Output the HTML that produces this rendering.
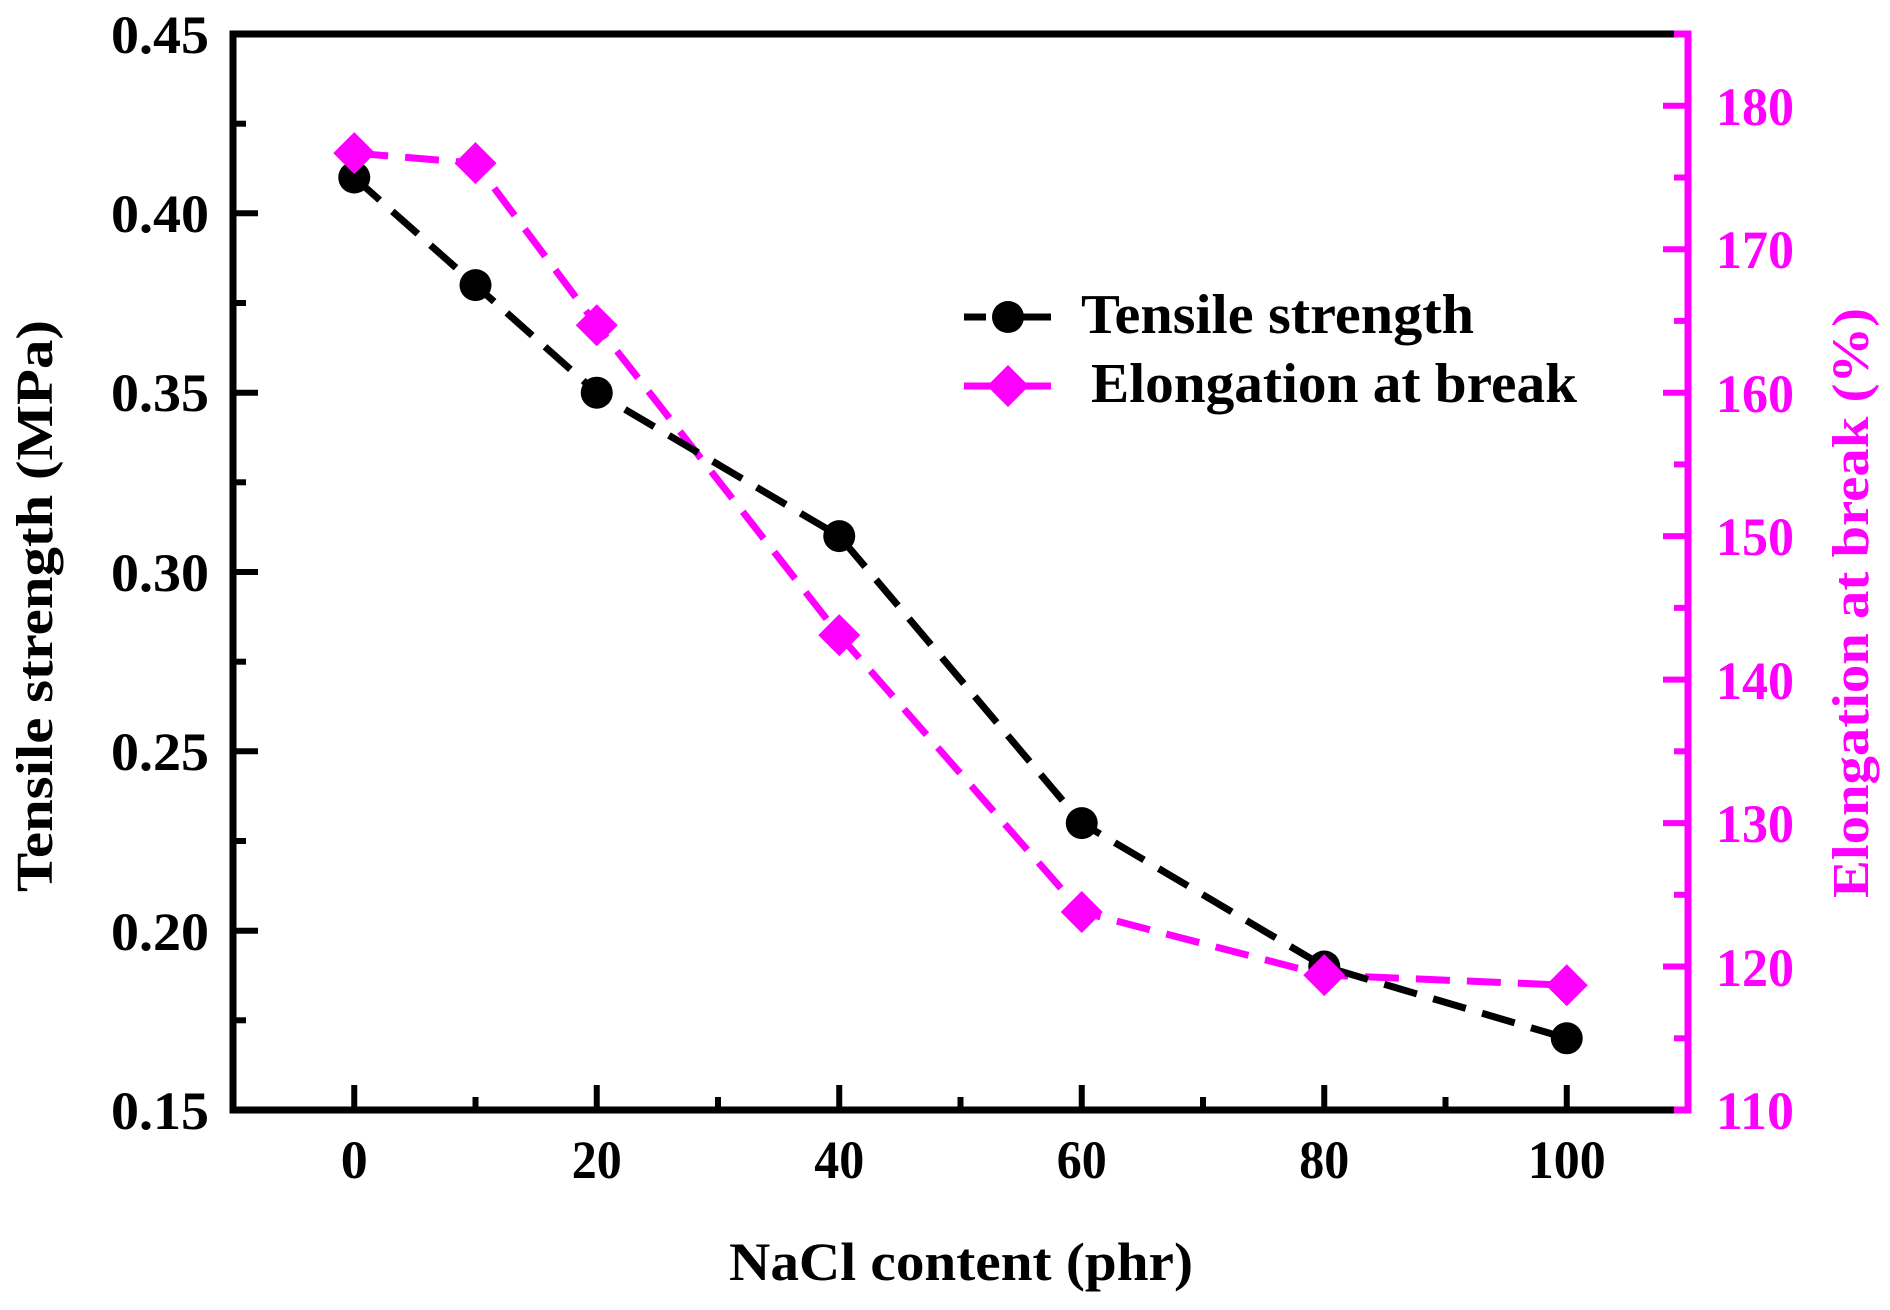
<!DOCTYPE html>
<html><head><meta charset="utf-8"><style>html,body{margin:0;padding:0;background:#fff}svg{display:block}</style></head><body>
<svg xmlns="http://www.w3.org/2000/svg" width="1890" height="1310" viewBox="0 0 1890 1310" font-family="'Liberation Serif', serif" font-weight="bold">
<rect width="1890" height="1310" fill="#fff"/>
<polyline points="354.25,153.1 475.5,163.1 596.75,325.2 839.25,635.1 1081.75,912 1324.25,975.1 1566.75,985.2" fill="none" stroke="#ff00ff" stroke-width="7" stroke-dasharray="34 17" stroke-linejoin="round"/>
<polyline points="354.25,177.5 475.5,285.1 596.75,392.7 839.25,536.1 1081.75,823.1 1324.25,966.5 1566.75,1038.3" fill="none" stroke="#000" stroke-width="7" stroke-dasharray="34 17" stroke-linejoin="round"/>
<g fill="#000">
<circle cx="354.25" cy="177.5" r="16"/><circle cx="475.5" cy="285.1" r="16"/><circle cx="596.75" cy="392.7" r="16"/><circle cx="839.25" cy="536.1" r="16"/><circle cx="1081.75" cy="823.1" r="16"/><circle cx="1324.25" cy="966.5" r="16"/><circle cx="1566.75" cy="1038.3" r="16"/>
</g>
<g fill="#ff00ff">
<polygon points="333.25,153.1 354.25,132.1 375.25,153.1 354.25,174.1"/>
<polygon points="454.5,163.1 475.5,142.1 496.5,163.1 475.5,184.1"/>
<polygon points="575.75,325.2 596.75,304.2 617.75,325.2 596.75,346.2"/>
<polygon points="818.25,635.1 839.25,614.1 860.25,635.1 839.25,656.1"/>
<polygon points="1060.75,912 1081.75,891 1102.75,912 1081.75,933"/>
<polygon points="1303.25,975.1 1324.25,954.1 1345.25,975.1 1324.25,996.1"/>
<polygon points="1545.75,985.2 1566.75,964.2 1587.75,985.2 1566.75,1006.2"/>
</g>
<line x1="233" y1="34" x2="1678" y2="34" stroke="#000" stroke-width="7"/>
<line x1="233" y1="1110" x2="1678" y2="1110" stroke="#000" stroke-width="7"/>
<line x1="233" y1="30.5" x2="233" y2="1113.5" stroke="#000" stroke-width="7"/>
<line x1="1688" y1="30.5" x2="1688" y2="1113.5" stroke="#ff00ff" stroke-width="7"/>
<line x1="1674" y1="34" x2="1688" y2="34" stroke="#ff00ff" stroke-width="7"/>
<line x1="1674" y1="1110" x2="1688" y2="1110" stroke="#ff00ff" stroke-width="7"/>
<g stroke="#000" stroke-width="6">
<line x1="233" y1="123.7" x2="246" y2="123.7"/><line x1="233" y1="213.3" x2="258" y2="213.3"/>
<line x1="233" y1="303" x2="246" y2="303"/><line x1="233" y1="392.7" x2="258" y2="392.7"/>
<line x1="233" y1="482.3" x2="246" y2="482.3"/><line x1="233" y1="572" x2="258" y2="572"/>
<line x1="233" y1="661.7" x2="246" y2="661.7"/><line x1="233" y1="751.3" x2="258" y2="751.3"/>
<line x1="233" y1="841" x2="246" y2="841"/><line x1="233" y1="930.7" x2="258" y2="930.7"/>
<line x1="233" y1="1020.3" x2="246" y2="1020.3"/>
<line x1="354.25" y1="1110" x2="354.25" y2="1085"/><line x1="475.5" y1="1110" x2="475.5" y2="1097"/>
<line x1="596.75" y1="1110" x2="596.75" y2="1085"/><line x1="718" y1="1110" x2="718" y2="1097"/>
<line x1="839.25" y1="1110" x2="839.25" y2="1085"/><line x1="960.5" y1="1110" x2="960.5" y2="1097"/>
<line x1="1081.75" y1="1110" x2="1081.75" y2="1085"/><line x1="1203" y1="1110" x2="1203" y2="1097"/>
<line x1="1324.25" y1="1110" x2="1324.25" y2="1085"/><line x1="1445.5" y1="1110" x2="1445.5" y2="1097"/>
<line x1="1566.75" y1="1110" x2="1566.75" y2="1085"/>
</g>
<g stroke="#ff00ff" stroke-width="6">
<line x1="1688" y1="105.7" x2="1663" y2="105.7"/><line x1="1688" y1="177.5" x2="1674" y2="177.5"/>
<line x1="1688" y1="249.2" x2="1663" y2="249.2"/><line x1="1688" y1="320.9" x2="1674" y2="320.9"/>
<line x1="1688" y1="392.7" x2="1663" y2="392.7"/><line x1="1688" y1="464.4" x2="1674" y2="464.4"/>
<line x1="1688" y1="536.1" x2="1663" y2="536.1"/><line x1="1688" y1="607.9" x2="1674" y2="607.9"/>
<line x1="1688" y1="679.6" x2="1663" y2="679.6"/><line x1="1688" y1="751.3" x2="1674" y2="751.3"/>
<line x1="1688" y1="823.1" x2="1663" y2="823.1"/><line x1="1688" y1="894.8" x2="1674" y2="894.8"/>
<line x1="1688" y1="966.5" x2="1663" y2="966.5"/><line x1="1688" y1="1038.3" x2="1674" y2="1038.3"/>
</g>
<g font-size="54" text-anchor="end">
<text x="209" y="53" textLength="98" lengthAdjust="spacingAndGlyphs">0.45</text>
<text x="209" y="232" textLength="98" lengthAdjust="spacingAndGlyphs">0.40</text>
<text x="209" y="411" textLength="98" lengthAdjust="spacingAndGlyphs">0.35</text>
<text x="209" y="591" textLength="98" lengthAdjust="spacingAndGlyphs">0.30</text>
<text x="209" y="770" textLength="98" lengthAdjust="spacingAndGlyphs">0.25</text>
<text x="209" y="950" textLength="98" lengthAdjust="spacingAndGlyphs">0.20</text>
<text x="209" y="1129" textLength="98" lengthAdjust="spacingAndGlyphs">0.15</text>
</g>
<g font-size="54" text-anchor="middle">
<text x="354.25" y="1178">0</text>
<text x="596.75" y="1178" textLength="50" lengthAdjust="spacingAndGlyphs">20</text>
<text x="839.25" y="1178" textLength="50" lengthAdjust="spacingAndGlyphs">40</text>
<text x="1081.75" y="1178" textLength="50" lengthAdjust="spacingAndGlyphs">60</text>
<text x="1324.25" y="1178" textLength="50" lengthAdjust="spacingAndGlyphs">80</text>
<text x="1566.75" y="1178" textLength="78" lengthAdjust="spacingAndGlyphs">100</text>
</g>
<g font-size="54" fill="#ff00ff">
<text x="1716" y="125" textLength="78" lengthAdjust="spacingAndGlyphs">180</text>
<text x="1716" y="268" textLength="78" lengthAdjust="spacingAndGlyphs">170</text>
<text x="1716" y="412" textLength="78" lengthAdjust="spacingAndGlyphs">160</text>
<text x="1716" y="555" textLength="78" lengthAdjust="spacingAndGlyphs">150</text>
<text x="1716" y="699" textLength="78" lengthAdjust="spacingAndGlyphs">140</text>
<text x="1716" y="842" textLength="78" lengthAdjust="spacingAndGlyphs">130</text>
<text x="1716" y="986" textLength="78" lengthAdjust="spacingAndGlyphs">120</text>
<text x="1716" y="1129" textLength="78" lengthAdjust="spacingAndGlyphs">110</text>
</g>
<text x="0" y="0" font-size="52" text-anchor="middle" transform="translate(52,606) rotate(-90)" textLength="572" lengthAdjust="spacingAndGlyphs">Tensile strength (MPa)</text>
<text x="0" y="0" font-size="52" text-anchor="middle" fill="#ff00ff" transform="translate(1868,603) rotate(-90)" textLength="590" lengthAdjust="spacingAndGlyphs">Elongation at break (%)</text>
<text x="961" y="1280" font-size="54" text-anchor="middle" textLength="464" lengthAdjust="spacingAndGlyphs">NaCl content (phr)</text>
<line x1="964" y1="317" x2="1051" y2="317" stroke="#000" stroke-width="7" stroke-dasharray="22 13 52"/>
<circle cx="1008" cy="317" r="16" fill="#000"/>
<text x="1081" y="333" font-size="56" textLength="393" lengthAdjust="spacingAndGlyphs">Tensile strength</text>
<line x1="964" y1="386" x2="1051" y2="386" stroke="#ff00ff" stroke-width="7"/>
<polygon points="987,386 1008,365 1029,386 1008,407" fill="#ff00ff"/>
<text x="1091" y="402" font-size="56" textLength="486" lengthAdjust="spacingAndGlyphs">Elongation at break</text>
</svg>
</body></html>
